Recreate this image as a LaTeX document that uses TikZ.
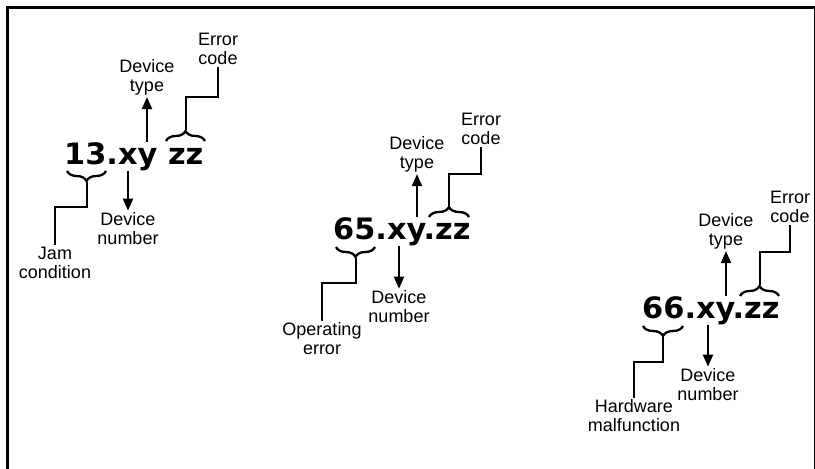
\documentclass[tikz,border=0pt]{standalone}
\usepackage{fontspec}
\setmainfont{Liberation Sans}
\newfontfamily\codefont{DejaVu Sans Bold}[FakeStretch=1.03]
\usetikzlibrary{arrows.meta, decorations.pathreplacing, calc}

\begin{document}
\begin{tikzpicture}[
    x=1pt, y=-1pt,
    >={Triangle[width=10pt, length=12pt]},
    code/.style={
        font=\codefont\fontsize{29.5}{30}\selectfont,
        inner sep=0pt, anchor=base west
    },
    tag/.style={
        font=\fontsize{18}{19}\selectfont, align=center, inner sep=2pt
    },
    line/.style={draw, line width=2pt, -},
    arrow/.style={draw, line width=2pt, ->},
    codebrace/.style={
        draw, line width=2.3pt, decorate,
        decoration={brace, amplitude=10pt}
    }
]

\useasboundingbox (0,0) rectangle (815,469);

% frame
\draw[line width=3pt, line join=miter] (7.5,469) -- (7.5,7.5) -- (815,7.5);
\draw[line width=1pt] (814,7.5) -- (814,469);

% ==========================================
% 13.xy zz
% ==========================================

\node[code] (code13) at (64,164) {13.xy zz};

\node[tag] (devtype13) at (147,77) {Device\\type};
\node[tag] (errcode13) at (218,49) {Error\\code};
\node[tag] (devnum13) at (128,229) {Device\\number};
\node[tag] (jam13) at (55,263) {Jam\\condition};

\draw[arrow] (code13.north -| devtype13.south) -- (devtype13.south);
\draw[arrow] (code13.south -| devnum13.north) -- (devnum13.north);

\draw[codebrace] (166,141) -- (205,141);
\coordinate (zz13) at (185.5,130);
\draw[line] (zz13) -- ++(0,-33) -| (errcode13.south);

\draw[codebrace] (106,171) -- (67,171);
\coordinate (nn13) at (86.5,182);
\draw[line] (nn13) -- ++(0,25) -| (jam13.north);

% ==========================================
% 65.xy.zz
% ==========================================

\node[code] (code65) at (333,239) {65.xy.zz};

\node[tag] (devtype65) at (417,154) {Device\\type};
\node[tag] (errcode65) at (481,129) {Error\\code};
\node[tag] (devnum65) at (399,307) {Device\\number};
\node[tag] (operr65) at (322,339) {Operating\\error};

\draw[arrow] (code65.north -| devtype65.south) -- (devtype65.south);
\draw[arrow] (code65.south -| devnum65.north) -- (devnum65.north);

\draw[codebrace] (429,217) -- (469,217);
\coordinate (zz65) at (449,206);
\draw[line] (zz65) -- ++(0,-32) -| (errcode65.south);

\draw[codebrace] (375,247) -- (336,247);
\coordinate (nn65) at (355.5,258);
\draw[line] (nn65) -- ++(0,25) -| (operr65.north);

% ==========================================
% 66.xy.zz
% ==========================================

\node[code] (code66) at (642,318) {66.xy.zz};

\node[tag] (devtype66) at (726,231) {Device\\type};
\node[tag] (errcode66) at (790,207) {Error\\code};
\node[tag] (devnum66) at (708,385) {Device\\number};
\node[tag] (hwfail66) at (634,416) {Hardware\\malfunction};

\draw[arrow] (code66.north -| devtype66.south) -- (devtype66.south);
\draw[arrow] (code66.south -| devnum66.north) -- (devnum66.north);

\draw[codebrace] (740,296) -- (779,296);
\coordinate (zz66) at (759.5,285);
\draw[line] (zz66) -- ++(0,-33) -| (errcode66.south);

\draw[codebrace] (683,326) -- (643,326);
\coordinate (nn66) at (663,337);
\draw[line] (nn66) -- ++(0,25) -| (hwfail66.north);

\end{tikzpicture}
\end{document}
